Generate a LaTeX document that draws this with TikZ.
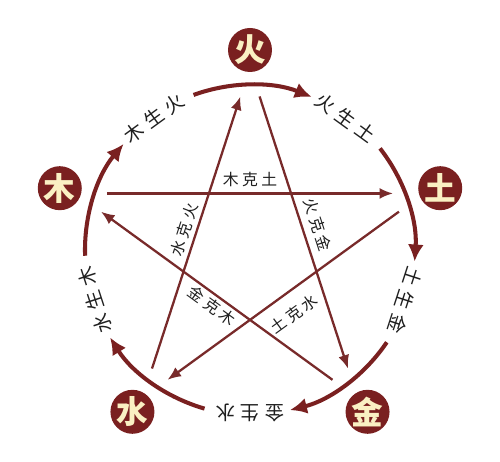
\documentclass[tikz,border=0pt]{standalone}
\usepackage{fontspec}
\setmainfont{Noto Sans CJK SC}
\usetikzlibrary{arrows.meta}
\definecolor{wxred}{RGB}{122,32,32}
\definecolor{wxline}{RGB}{120,42,42}
\definecolor{wxcream}{RGB}{250,240,195}

\begin{document}
\begin{tikzpicture}[x=0.02cm, y=0.02cm,
		element/.style={circle, fill=wxred, text=wxcream, minimum size=0.88cm, inner sep=0pt, font=\fontsize{18}{18}\selectfont\bfseries},
		cycle/.style={line width=2.3pt, draw=wxred, -{Latex[length=0.34cm, width=0.32cm]}},
		star/.style={line width=1.3pt, draw=wxline, -{Latex[length=0.27cm, width=0.22cm]}, shorten <=0.62cm, shorten >=0.62cm},
		cyclelabel/.style={font=\fontsize{11}{12}\selectfont, text=black!88},
		starlabel/.style={font=\fontsize{9}{10}\selectfont, text=black!88}]
			%%%%% START %%%%%
			\useasboundingbox (-250, -212) rectangle (250, 250);
			
			% xiang sheng: the outer ring
			\draw[cycle] (110:165) arc (110:68:165);
			\draw[cycle] (38:165) arc (38:-4:165);
			\draw[cycle] (-34:165) arc (-34:-76:165);
			\draw[cycle] (-106:165) arc (-106:-148:165);
			\draw[cycle] (182:165) arc (182:140:165);
			
			\node[cyclelabel, rotate=36] (mushenghuo) at (126:163) {木\kern3pt生\kern3pt火};
			\node[cyclelabel, rotate=-36] (huoshengtu) at (54:163) {火\kern3pt生\kern3pt土};
			\node[cyclelabel, rotate=-108] (tushengjin) at (-18:163) {土\kern3pt生\kern3pt金};
			\node[cyclelabel, rotate=-180] (jinshengshui) at (-90:163) {金\kern3pt生\kern3pt水};
			\node[cyclelabel, rotate=108] (shuishengmu) at (198:163) {水\kern3pt生\kern3pt木};
			
			% the five elements
			\node[element] (huo) at (90:200) {火};
			\node[element] (tu) at (18:200) {土};
			\node[element] (jin) at (-54:200) {金};
			\node[element] (shui) at (-126:200) {水};
			\node[element] (mu) at (162:200) {木};
			
			% xiang ke: the star
			\coordinate (s-huo) at (90:183);
			\coordinate (s-tu) at (18:183);
			\coordinate (s-jin) at (-54:183);
			\coordinate (s-shui) at (-126:183);
			\coordinate (s-mu) at (162:183);
			
			\draw[star] (s-mu) -- (s-tu);
			\draw[star] (s-tu) -- (s-shui);
			\draw[star] (s-shui) -- (s-huo);
			\draw[star] (s-huo) -- (s-jin);
			\draw[star] (s-jin) -- (s-mu);
			
			\node[starlabel] (mukentu) at (0, 70) {木\kern2pt克\kern2pt土};
			\node[starlabel, rotate=72] (shuikehuo) at (-66, 20) {水\kern2pt克\kern2pt火};
			\node[starlabel, rotate=-72] (huokejin) at (68, 25) {火\kern2pt克\kern2pt金};
			\node[starlabel, rotate=-36] (jinkemu) at (-38, -56) {金\kern2pt克\kern2pt木};
			\node[starlabel, rotate=36] (tukeshui) at (44, -64) {土\kern2pt克\kern2pt水};
			
			%%%%% END %%%%%
\end{tikzpicture}
\end{document}
